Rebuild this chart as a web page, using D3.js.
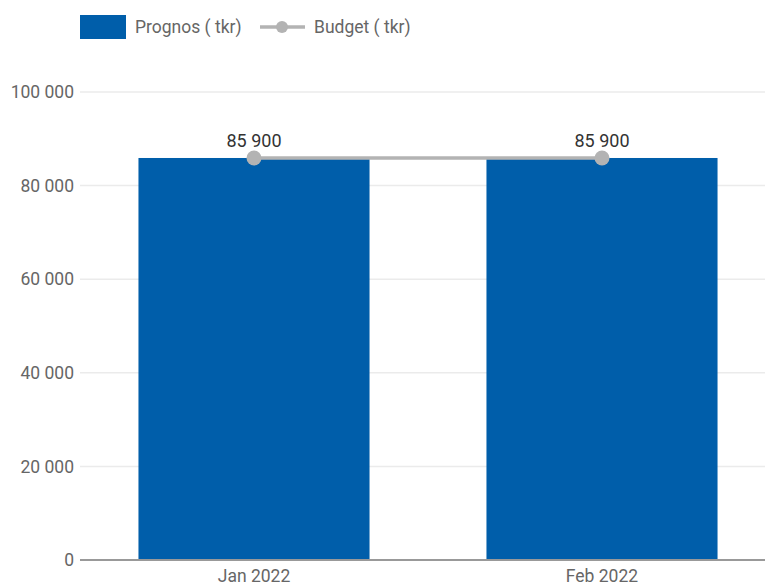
<!DOCTYPE html>
<html><head><meta charset="utf-8">
<script src="https://cdn.jsdelivr.net/npm/d3@7"></script>
<style>body{margin:0;background:#fff;overflow:hidden}svg{display:block;font-family:Roboto,sans-serif}</style>
</head><body>
<svg id="c" width="765" height="585"></svg>
<script>
const categories = ["Jan 2022", "Feb 2022"];
const prognos = [85900, 85900];
const budget = [85900, 85900];
const yTicks = [0, 20000, 40000, 60000, 80000, 100000];
const seriesNames = ["Prognos ( tkr)", "Budget ( tkr)"];

(function(){
const svg = d3.select("#c");
const pLeft = 80, pRight = 776, pTop = 92, pBottom = 560;
const fs = 17.5;
const fmt = v => d3.format(",")(v).replace(/,/g, " ");
const x = d3.scaleBand().domain(categories).range([pLeft, pRight]).paddingInner(0.336).paddingOuter(0.168);
const y = d3.scaleLinear().domain([0, 100000]).range([pBottom, pTop]);

svg.append("g").selectAll("line").data(yTicks.filter(d=>d>0)).join("line")
  .attr("x1", pLeft).attr("x2", 765).attr("y1", d=>y(d)).attr("y2", d=>y(d))
  .attr("stroke", "#ebebeb").attr("stroke-width", 1.5);

svg.append("g").selectAll("text").data(yTicks).join("text")
  .attr("x", 74).attr("y", d=>y(d)).attr("dy", "0.35em").attr("text-anchor", "end")
  .attr("font-size", fs).attr("fill", "#666").text(fmt);

svg.append("g").selectAll("rect").data(categories).join("rect")
  .attr("x", d=>x(d)).attr("width", x.bandwidth())
  .attr("y", (d,i)=>y(prognos[i])).attr("height", (d,i)=>y(0)-y(prognos[i]))
  .attr("fill", "#005eaa");

svg.append("line").attr("x1", pLeft).attr("x2", 765).attr("y1", pBottom).attr("y2", pBottom)
  .attr("stroke", "#999").attr("stroke-width", 2);

svg.append("g").selectAll("text").data(categories).join("text")
  .attr("x", d=>x(d)+x.bandwidth()/2).attr("y", 576).attr("dy", "0.35em").attr("text-anchor", "middle")
  .attr("font-size", fs).attr("fill", "#666").text(d=>d);

const cx = (d)=>x(d)+x.bandwidth()/2;
svg.append("path").datum(categories)
  .attr("d", d3.line().x(d=>cx(d)).y((d,i)=>y(budget[i])))
  .attr("fill", "none").attr("stroke", "#b3b3b3").attr("stroke-width", 3.5);
svg.append("g").selectAll("circle").data(categories).join("circle")
  .attr("cx", cx).attr("cy", (d,i)=>y(budget[i])).attr("r", 7.5).attr("fill", "#b3b3b3");

svg.append("g").selectAll("text").data(categories).join("text")
  .attr("x", cx).attr("y", (d,i)=>y(budget[i])-17).attr("dy", "0.35em").attr("text-anchor", "middle")
  .attr("font-size", 18).attr("fill", "#333").text((d,i)=>fmt(budget[i]));

const lg = svg.append("g");
lg.append("rect").attr("x", 80).attr("y", 15).attr("width", 46).attr("height", 24).attr("fill", "#005eaa");
lg.append("text").attr("x", 135).attr("y", 27).attr("dy", "0.35em").attr("font-size", fs).attr("fill", "#666").text(seriesNames[0]);
lg.append("line").attr("x1", 260).attr("x2", 305).attr("y1", 27).attr("y2", 27).attr("stroke", "#b3b3b3").attr("stroke-width", 3.5);
lg.append("circle").attr("cx", 282).attr("cy", 27).attr("r", 6).attr("fill", "#b3b3b3");
lg.append("text").attr("x", 314).attr("y", 27).attr("dy", "0.35em").attr("font-size", fs).attr("fill", "#666").text(seriesNames[1]);
})();
</script>
</body></html>
